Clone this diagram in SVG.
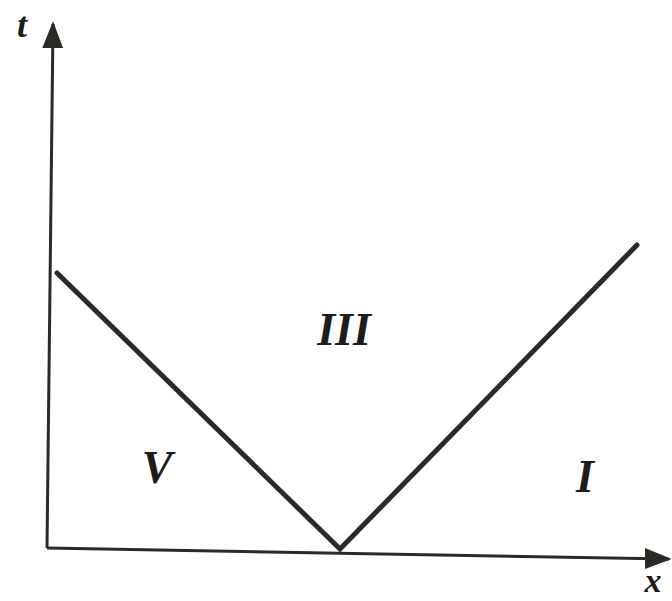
<svg xmlns="http://www.w3.org/2000/svg" width="672" height="601" viewBox="0 0 672 601">
<style>
.ax{stroke:#2b2a24;stroke-width:3;fill:none}
.ln{stroke:#2b2a24;stroke-width:5;fill:none;stroke-linecap:round}
.lb{font-family:"Liberation Serif",serif;font-style:italic;font-weight:bold;fill:#1e1c18}
</style>
<defs>
<marker id="ah" viewBox="0 0 10 10" refX="9" refY="5" markerWidth="9" markerHeight="7" markerUnits="strokeWidth" orient="auto" preserveAspectRatio="none">
<path d="M0,0 L10,5 L0,10 z" fill="#2b2a24"/>
</marker>
</defs>
<g id="connectors">
<line class="ax" x1="47" y1="548" x2="53" y2="24" marker-end="url(#ah)"/>
<line class="ax" x1="47" y1="548" x2="669" y2="559" marker-end="url(#ah)"/>
<polyline class="ln" points="57,273 340,549 637,245"/>
</g>
<g id="label-t"><text class="lb" x="22" y="37" font-size="36" text-anchor="middle">t</text></g>
<g id="label-x"><text class="lb" x="653" y="592" font-size="34" text-anchor="middle">x</text></g>
<g id="region-III"><text class="lb" x="344" y="345" font-size="46" text-anchor="middle">III</text></g>
<g id="region-V"><text class="lb" x="157" y="483" font-size="46" text-anchor="middle">V</text></g>
<g id="region-I"><text class="lb" x="585" y="492" font-size="46" text-anchor="middle">I</text></g>
</svg>
